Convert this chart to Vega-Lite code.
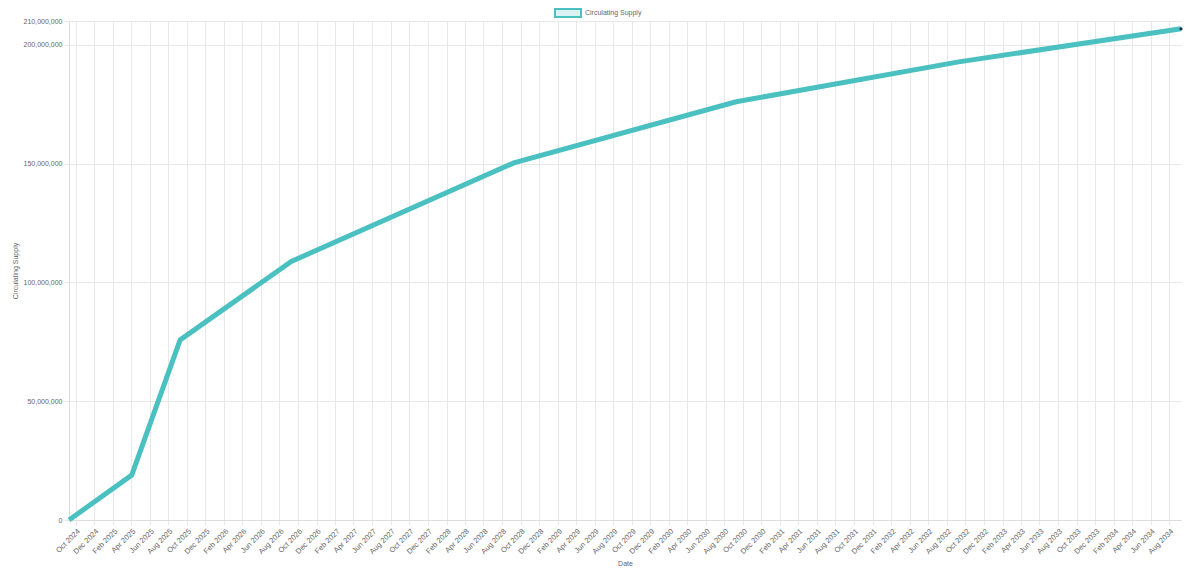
{
  "$schema": "https://vega.github.io/schema/vega-lite/v6.json",
  "width": 1112,
  "height": 499,
  "autosize": "none",
  "padding": {"left": 69, "top": 21, "right": 19, "bottom": 65},
  "background": "white",
  "config": {
    "view": {"stroke": null},
    "font": "Liberation Sans",
    "axis": {
      "labelFont": "Liberation Sans",
      "titleFont": "Liberation Sans",
      "labelFontSize": 7,
      "titleFontSize": 7,
      "labelColor": "#666666",
      "titleColor": "#666666",
      "titleFontWeight": "normal",
      "gridColor": "#e8e8e8",
      "gridWidth": 1,
      "tickColor": "#e8e8e8",
      "tickSize": 5,
      "domainColor": "#dddddd",
      "labelPadding": 2
    }
  },
  "data": {
    "values": [
      {"date": "2024-09-09", "supply": 0},
      {"date": "2025-04-03", "supply": 18900000},
      {"date": "2025-09-09", "supply": 75800000},
      {"date": "2026-09-09", "supply": 108800000},
      {"date": "2028-09-09", "supply": 150300000},
      {"date": "2030-09-09", "supply": 176000000},
      {"date": "2032-09-09", "supply": 192800000},
      {"date": "2034-09-09", "supply": 206700000}
    ]
  },
  "encoding": {
    "x": {
      "field": "date",
      "type": "temporal",
      "title": "Date",
      "scale": {"nice": false, "domain": ["2024-09-09", "2034-09-09"]},
      "axis": {
        "format": "%b %Y",
        "labelAngle": -45,
        "labelFontSize": 7.5,
        "labelOverlap": false,
        "labelFlush": false,
        "titleY": 43,
        "titleBaseline": "middle",
        "values": [
          "2024-10-01", "2024-12-01",
          "2025-02-01", "2025-04-01", "2025-06-01", "2025-08-01", "2025-10-01", "2025-12-01",
          "2026-02-01", "2026-04-01", "2026-06-01", "2026-08-01", "2026-10-01", "2026-12-01",
          "2027-02-01", "2027-04-01", "2027-06-01", "2027-08-01", "2027-10-01", "2027-12-01",
          "2028-02-01", "2028-04-01", "2028-06-01", "2028-08-01", "2028-10-01", "2028-12-01",
          "2029-02-01", "2029-04-01", "2029-06-01", "2029-08-01", "2029-10-01", "2029-12-01",
          "2030-02-01", "2030-04-01", "2030-06-01", "2030-08-01", "2030-10-01", "2030-12-01",
          "2031-02-01", "2031-04-01", "2031-06-01", "2031-08-01", "2031-10-01", "2031-12-01",
          "2032-02-01", "2032-04-01", "2032-06-01", "2032-08-01", "2032-10-01", "2032-12-01",
          "2033-02-01", "2033-04-01", "2033-06-01", "2033-08-01", "2033-10-01", "2033-12-01",
          "2034-02-01", "2034-04-01", "2034-06-01", "2034-08-01"
        ]
      }
    },
    "y": {
      "field": "supply",
      "type": "quantitative",
      "title": "Circulating Supply",
      "scale": {"domain": [0, 210000000], "nice": false},
      "axis": {
        "values": [0, 50000000, 100000000, 150000000, 200000000, 210000000],
        "format": ",d",
        "titleX": -54,
        "titleBaseline": "middle"
      }
    }
  },
  "layer": [
    {
      "mark": {"type": "line", "strokeWidth": 5, "strokeCap": "butt", "strokeJoin": "miter"},
      "encoding": {
        "color": {
          "datum": "Circulating Supply",
          "type": "nominal",
          "scale": {"range": ["#4bc0c0"]},
          "legend": {
            "title": null,
            "orient": "none",
            "legendX": 485,
            "legendY": -22,
            "padding": 0,
            "symbolType": "M-1,-0.31L1,-0.31L1,0.31L-1,0.31Z",
            "symbolSize": 676,
            "symbolStrokeWidth": 2,
            "labelFont": "Liberation Sans",
            "labelFontSize": 7,
            "labelColor": "#666666",
            "labelOffset": 3,
            "encode": {
              "symbols": {
                "update": {
                  "fill": {"value": "rgba(75,192,192,0.2)"},
                  "stroke": {"value": "#4bc0c0"},
                  "strokeWidth": {"value": 2}
                }
              }
            }
          }
        }
      }
    },
    {
      "transform": [{"filter": "datum.supply >= 206000000"}],
      "mark": {"type": "point", "filled": true, "size": 10, "color": "#1d2f45", "opacity": 1}
    }
  ]
}
